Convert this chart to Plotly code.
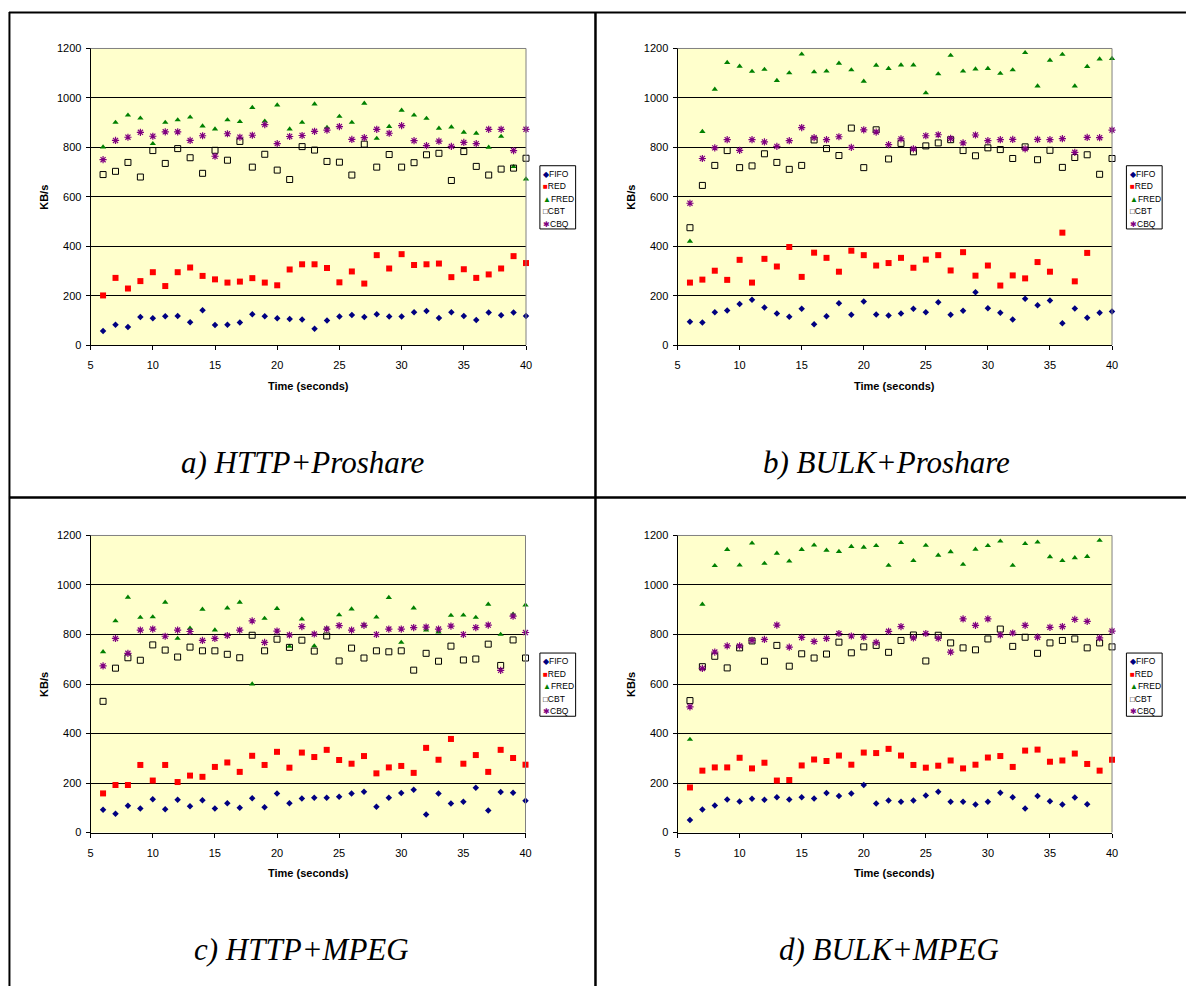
import plotly.graph_objects as go

W, H = 1187, 987
times = list(range(6, 41))
x_ticks = [5, 10, 15, 20, 25, 30, 35, 40]
y_ticks = [0, 200, 400, 600, 800, 1000, 1200]
series_names = ["FIFO", "RED", "FRED", "CBT", "CBQ"]

# a) HTTP+Proshare
a_fifo = [57, 82, 73, 114, 109, 117, 118, 93, 141, 81, 82, 92, 125, 117, 109, 106, 104, 66, 100, 116, 122, 114, 125, 116, 116, 133, 138, 110, 133, 118, 102, 132, 121, 132, 118]
a_red = [201, 272, 229, 259, 295, 239, 295, 314, 280, 266, 253, 257, 271, 253, 242, 306, 327, 327, 312, 254, 298, 249, 364, 310, 368, 324, 327, 330, 275, 307, 272, 286, 310, 360, 332]
a_fred = [801, 901, 930, 918, 815, 901, 911, 922, 886, 874, 911, 904, 961, 906, 971, 874, 901, 975, 880, 925, 901, 978, 836, 884, 950, 930, 917, 877, 882, 861, 857, 800, 844, 722, 672]
a_cbt = [690, 703, 739, 680, 787, 735, 795, 758, 695, 788, 748, 824, 720, 772, 708, 670, 803, 789, 743, 740, 688, 813, 720, 771, 720, 738, 770, 776, 666, 783, 723, 688, 712, 716, 756]
a_cbq = [750, 828, 841, 861, 845, 863, 863, 828, 847, 764, 855, 841, 849, 892, 815, 844, 848, 865, 870, 884, 832, 839, 873, 857, 888, 827, 807, 825, 804, 820, 815, 873, 873, 787, 873]

# b) BULK+Proshare
b_fifo = [95, 92, 133, 140, 166, 184, 152, 128, 115, 147, 84, 117, 169, 123, 176, 124, 120, 128, 147, 133, 173, 123, 139, 214, 149, 131, 104, 188, 161, 181, 88, 148, 111, 131, 136]
b_red = [253, 265, 301, 264, 345, 253, 349, 318, 397, 276, 374, 353, 297, 382, 364, 322, 332, 353, 313, 346, 364, 302, 376, 281, 322, 241, 282, 270, 336, 297, 455, 258, 373, None, None]
b_fred = [420, 864, 1035, 1143, 1128, 1107, 1115, 1070, 1101, 1177, 1105, 1108, 1140, 1113, 1067, 1132, 1119, 1133, 1133, 1020, 1097, 1172, 1108, 1117, 1119, 1099, 1113, 1183, 1048, 1152, 1176, 1048, 1127, 1157, 1159]
b_cbt = [475, 646, 727, 787, 718, 725, 774, 739, 711, 727, 830, 795, 767, 878, 718, 871, 753, 816, 782, 806, 818, 831, 787, 766, 798, 791, 755, 802, 750, 788, 719, 759, 770, 691, 755]
b_cbq = [574, 755, 798, 831, 788, 831, 822, 804, 827, 880, 839, 831, 843, 800, 871, 862, 811, 834, 794, 847, 851, 836, 818, 850, 827, 831, 832, 794, 832, 831, 835, 780, 840, 839, 870]

# c) HTTP+MPEG
c_fifo = [92, 76, 108, 97, 134, 94, 132, 106, 130, 97, 118, 100, 138, 102, 158, 118, 137, 140, 140, 145, 158, 165, 104, 140, 160, 173, 73, 158, 117, 124, 181, 89, 164, 161, 128]
c_red = [158, 192, 192, 273, 210, 273, 204, 230, 225, 265, 283, 245, 310, 273, 326, 262, 323, 305, 334, 293, 278, 309, 239, 263, 269, 241, 342, 294, 378, 278, 313, 245, 334, 301, 274]
c_fred = [730, 855, 950, 869, 871, 930, 784, 825, 902, 818, 907, 930, 600, 865, 905, 752, 862, 754, 825, 879, 903, 837, 870, 949, 768, 907, 818, 810, 877, 878, 869, 922, 800, 882, 919]
c_cbt = [530, 664, 706, 696, 758, 737, 709, 749, 734, 734, 720, 706, 797, 734, 781, 748, 777, 733, 794, 693, 745, 705, 734, 730, 734, 656, 724, 692, 753, 697, 701, 761, 675, 778, 705]
c_cbq = [673, 784, 724, 818, 822, 793, 818, 812, 776, 784, 796, 818, 855, 768, 814, 798, 832, 802, 822, 836, 818, 837, 800, 822, 822, 828, 830, 822, 834, 800, 828, 838, 655, 874, 808]

# d) BULK+MPEG
d_fifo = [51, 93, 109, 133, 125, 136, 132, 142, 133, 142, 137, 160, 148, 158, 192, 117, 129, 124, 129, 150, 165, 124, 124, 113, 124, 161, 142, 97, 148, 126, 113, 141, 114, None, None]
d_red = [182, 250, 263, 263, 302, 259, 282, 210, 212, 271, 295, 289, 311, 274, 323, 321, 338, 311, 273, 262, 270, 291, 259, 274, 303, 309, 265, 331, 335, 286, 291, 319, 277, 250, 294]
d_fred = [376, 922, 1078, 1143, 1080, 1169, 1087, 1128, 1096, 1143, 1161, 1140, 1135, 1155, 1152, 1159, 1079, 1171, 1098, 1160, 1120, 1134, 1083, 1144, 1159, 1177, 1079, 1167, 1173, 1114, 1098, 1110, 1115, 1180, None]
d_cbt = [533, 670, 712, 665, 746, 774, 692, 756, 672, 722, 705, 721, 769, 726, 750, 756, 728, 776, 798, 693, 797, 766, 746, 738, 782, 822, 752, 789, 724, 766, 776, 782, 746, 766, 750]
d_cbq = [508, 663, 729, 754, 754, 776, 780, 838, 749, 788, 772, 784, 804, 794, 789, 768, 813, 832, 786, 804, 785, 729, 863, 837, 863, 798, 806, 837, 789, 829, 832, 861, 853, 786, 814]

captions = ["a) HTTP+Proshare", "b) BULK+Proshare", "c) HTTP+MPEG", "d) BULK+MPEG"]

# ---- styling / layout (pixels) ----
SANS = "Arial, Liberation Sans, sans-serif"
SERIF = "Times New Roman, Liberation Serif, serif"
styles = [
    dict(symbol="diamond", size=5, color="#000080"),
    dict(symbol="square", size=6, color="#FF0000"),
    dict(symbol="triangle-up", size=5.5, color="#008000"),
    dict(symbol="square-open", size=6, color="#000000", line=dict(width=1, color="#000000")),
    dict(symbol="asterisk-open", size=6, color="#800080", line=dict(width=1.2, color="#800080")),
]
glyphs = ["◆", "■", "▲", "□", "✱"]
glyph_colors = ["#000080", "#FF0000", "#008000", "#000000", "#800080"]

# panel geometry: x-pixel of x=5, x=40; y-pixel of y=0, y=1200; caption centre; legend top-left
panels = [
    dict(data=[a_fifo, a_red, a_fred, a_cbt, a_cbq], px=(88.3, 527), py=(343.3, 43), cap=(302, 462), leg=(541, 161.7)),
    dict(data=[b_fifo, b_red, b_fred, b_cbt, b_cbq], px=(679.7, 1117.5), py=(343.3, 43), cap=(890, 462), leg=(1132, 161.7)),
    dict(data=[c_fifo, c_red, c_fred, c_cbt, c_cbq], px=(88.3, 526.5), py=(836.7, 536), cap=(301, 955), leg=(541, 655)),
    dict(data=[d_fifo, d_red, d_fred, d_cbt, d_cbq], px=(679.7, 1117.5), py=(836.7, 536), cap=(893, 955), leg=(1132, 655)),
]

def fx(p):
    return p / W

def fy(p):
    return 1 - p / H

fig = go.Figure()
layout = dict(
    width=W, height=H, margin=dict(l=0, r=0, t=0, b=0),
    paper_bgcolor="white", plot_bgcolor="#FFFFCC", showlegend=False,
    font=dict(family=SANS, size=11, color="#000000"),
)
shapes = []
annotations = []

for i, p in enumerate(panels):
    k = "" if i == 0 else str(i + 1)
    xa, ya = "x" + k, "y" + k
    for name, vals, st in zip(series_names, p["data"], styles):
        fig.add_trace(go.Scatter(
            x=times, y=vals, mode="markers", name=name,
            marker=st, xaxis=xa, yaxis=ya, cliponaxis=False,
        ))
    layout["xaxis" + k] = dict(
        domain=[fx(p["px"][0]), fx(p["px"][1])], range=[5, 40], anchor=ya,
        tickvals=x_ticks, ticks="outside", ticklen=4, tickcolor="#000",
        showline=True, linecolor="#000", linewidth=1, showgrid=False, zeroline=False,
        ticklabelstandoff=6, tickfont=dict(size=11, family=SANS),
    )
    layout["yaxis" + k] = dict(
        domain=[fy(p["py"][0]), fy(p["py"][1])], range=[0, 1200], anchor=xa,
        tickvals=y_ticks, ticks="outside", ticklen=4, tickcolor="#000",
        showline=True, linecolor="#000", linewidth=1,
        showgrid=True, gridcolor="#000000", gridwidth=1, zeroline=False,
        ticklabelstandoff=2, tickfont=dict(size=11, family=SANS),
    )
    x0, x1 = p["px"]
    y0, y1 = p["py"]
    # grey top and right border of plot area
    shapes.append(dict(type="line", xref="paper", yref="paper", x0=fx(x0), x1=fx(x1), y0=fy(y1), y1=fy(y1),
                       line=dict(color="#808080", width=1), layer="above"))
    shapes.append(dict(type="line", xref="paper", yref="paper", x0=fx(x1), x1=fx(x1), y0=fy(y0), y1=fy(y1),
                       line=dict(color="#808080", width=1), layer="above"))
    # axis titles
    annotations.append(dict(text="<b>KB/s</b>", xref="paper", yref="paper", x=fx(x0 - 47), y=fy((y0 + y1) / 2),
                            textangle=-90, showarrow=False, font=dict(size=11, family=SANS),
                            xanchor="center", yanchor="middle"))
    annotations.append(dict(text="<b>Time (seconds)</b>", xref="paper", yref="paper", x=fx((x0 + x1) / 2), y=fy(y0 + 41),
                            showarrow=False, font=dict(size=11, family=SANS), xanchor="center", yanchor="middle"))
    # caption
    annotations.append(dict(text="<i>" + captions[i] + "</i>", xref="paper", yref="paper",
                            x=fx(p["cap"][0]), y=fy(p["cap"][1]), showarrow=False,
                            font=dict(size=31, family=SERIF, color="#000"), xanchor="center", yanchor="middle"))
    # legend box
    lx, ly = p["leg"]
    shapes.append(dict(type="rect", xref="paper", yref="paper", x0=fx(lx), x1=fx(lx + 36), y0=fy(ly), y1=fy(ly + 64),
                       line=dict(color="#000", width=1), fillcolor="white", layer="above"))
    for j, (g, gc, nm) in enumerate(zip(glyphs, glyph_colors, series_names)):
        annotations.append(dict(
            text='<span style="color:%s;font-size:8px">%s</span>%s' % (gc, g, nm),
            xref="paper", yref="paper", x=fx(lx + 1.5), y=fy(ly + 8.3 + 12.6 * j),
            showarrow=False, xanchor="left", yanchor="middle",
            font=dict(size=8.5, family=SANS, color="#000"),
        ))

# table borders
tb = dict(color="#000", width=2)
shapes += [
    dict(type="line", xref="paper", yref="paper", x0=fx(6.5), x1=fx(6.5), y0=fy(6), y1=fy(H + 5), line=tb),
    dict(type="line", xref="paper", yref="paper", x0=fx(6), x1=fx(W + 5), y0=fy(6.5), y1=fy(6.5), line=tb),
    dict(type="line", xref="paper", yref="paper", x0=fx(597), x1=fx(597), y0=fy(6), y1=fy(H + 5), line=dict(color="#000", width=2.5)),
    dict(type="line", xref="paper", yref="paper", x0=fx(6), x1=fx(W + 5), y0=fy(497.5), y1=fy(497.5), line=dict(color="#000", width=2.5)),
]

layout["shapes"] = shapes
layout["annotations"] = annotations
fig.update_layout(**layout)
fig.write_html("out.html")
